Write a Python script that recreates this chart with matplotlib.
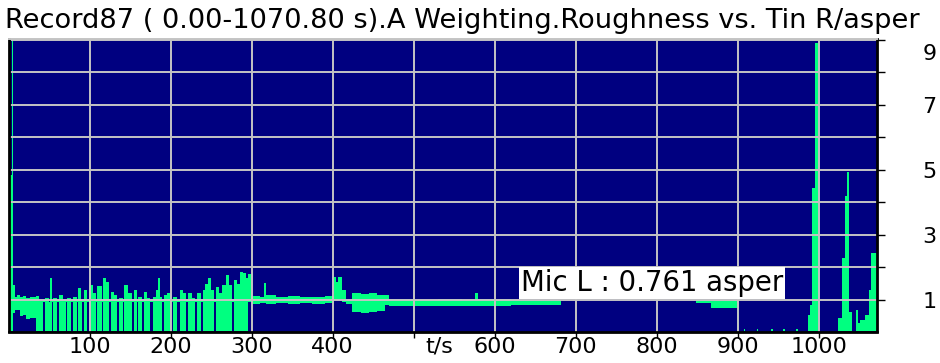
import numpy as np
import matplotlib
matplotlib.use('Agg')
import matplotlib.pyplot as plt
import matplotlib.transforms as mtransforms

nan = np.nan

# envelope of the trace (min / max per time slice), each slice runs to the next start
T_START = [0, 4.5, 6, 8, 10, 14, 18, 22, 27, 33.4,
           38, 43, 45, 49.8, 51.5, 53.9, 55, 60, 62, 67,
           70.4, 72, 76.5, 79, 84, 86, 88.9, 91, 93, 97,
           99, 104, 107.4, 109.5, 115.5, 117, 120.5, 123.8, 126, 130,
           134, 136, 141, 143, 148, 152.5, 154.6, 158, 160, 165,
           167, 171, 175, 178, 182, 184, 186.5, 189, 192, 196,
           200, 203, 208, 211, 215, 219, 221, 226, 230, 233,
           237, 240, 243, 246, 250, 254, 256, 260, 263, 268,
           272, 276, 278, 282, 285, 289, 293, 296,
           300, 310, 315, 317.5, 330, 345, 360, 375, 390, 401,
           404, 407, 412, 416, 424, 435, 445, 455, 465, 469,
           500, 530, 560, 576, 579, 620, 682, 848, 867, 899,
           901, 907, 909, 923, 925, 941, 943, 956, 958, 972,
           974, 986, 989, 991, 995, 998.5, 1023, 1028, 1032, 1035,
           1037, 1040, 1045, 1048, 1051, 1057, 1061, 1064]
LO = [0.05, 0.05, 0.6, 0.7, 0.68, 0.5, 0.55, 0.42, 0.45, 0.05,
      0.05, 0.95, 0.05, 0.05, 0.05, 0.95, 0.05, 0.95, 0.05, 0.05,
      0.95, 0.05, 0.95, 0.05, 0.95, 0.05, 0.05, 0.95, 0.05, 0.95,
      0.05, 0.05, 0.95, 0.05, 0.95, 0.05, 0.05, 0.95, 0.05, 0.05,
      0.95, 0.05, 0.95, 0.05, 0.05, 0.95, 0.05, 0.95, 0.05, 0.95,
      0.05, 0.05, 0.95, 0.05, 0.05, 0.05, 0.05, 0.95, 0.05, 0.05,
      0.95, 0.05, 0.95, 0.05, 0.05, 0.95, 0.05, 0.05, 0.95, 0.05,
      0.95, 0.05, 0.05, 0.05, 0.05, 0.95, 0.05, 0.05, 0.05, 0.05,
      0.05, 0.95, 0.05, 0.05, 0.05, 0.05, 0.05, 0.95,
      0.88, 0.9, 0.9, 0.88, 0.9, 0.87, 0.9, 0.88, 0.9, 1.0,
      1.0, 1.0, 0.95, 0.88, 0.63, 0.6, 0.63, 0.65, 0.85, 0.8,
      0.82, 0.8, 0.82, 0.82, 0.83, 0.85, nan, 0.92, 0.75, 0.05,
      nan, 0.05, nan, 0.05, nan, 0.05, nan, 0.05, nan, 0.05,
      nan, 0.05, 0.05, 0.05, 0.05, nan, 0.05, 0.05, 0.05, 0.05,
      0.05, nan, 0.05, 0.05, 0.05, 0.05, 0.05, 0.05]
HI = [4.85, 9.0, 1.45, 1.1, 1.15, 1.08, 1.12, 1.05, 1.1, 1.12,
      0.98, 1.0, 1.05, 0.95, 1.67, 1.0, 1.05, 1.0, 1.15, 1.0,
      1.0, 1.05, 1.0, 1.1, 1.0, 1.36, 1.0, 1.0, 1.3, 1.0,
      1.46, 1.2, 1.0, 1.42, 1.0, 1.67, 1.55, 1.0, 1.25, 1.15,
      1.0, 1.05, 1.0, 1.46, 1.2, 1.0, 1.3, 1.0, 1.1, 1.0,
      1.25, 1.05, 1.0, 1.1, 1.3, 1.67, 1.1, 1.0, 1.15, 1.2,
      1.0, 1.1, 1.0, 1.3, 1.2, 1.0, 1.2, 1.05, 1.0, 1.2,
      1.0, 1.3, 1.5, 1.67, 1.3, 1.0, 1.4, 1.2, 1.46, 1.77,
      1.45, 1.0, 1.6, 1.5, 1.85, 1.84, 1.68, 1.8,
      1.13, 1.1, 1.52, 1.14, 1.1, 1.12, 1.08, 1.1, 1.12, 1.7,
      1.55, 1.72, 1.3, 1.0, 1.2, 1.18, 1.2, 1.15, 1.15, 1.02,
      1.0, 1.02, 1.0, 1.22, 1.02, 1.0, nan, 1.0, 1.0, 1.0,
      nan, 0.12, nan, 0.12, nan, 0.12, nan, 0.12, nan, 0.12,
      nan, 0.54, 0.85, 4.45, 8.9, nan, 0.45, 2.3, 4.2, 4.95,
      0.63, nan, 0.69, 0.3, 0.38, 0.54, 1.3, 2.45]
T_END = 1070.8

X_TICKS = [100, 200, 300, 400, 500, 600, 700, 800, 900, 1000]
X_TICK_LABELS = ['100', '200', '300', '400', '', '600', '700', '800', '900', '1000']
Y_MAJOR = [1, 3, 5, 7, 9]
Y_MINOR = [2, 4, 6, 8]

TITLE = 'Record87 ( 0.00-1070.80 s).A Weighting.Roughness vs. Tin R/asper'
CURSOR_TEXT = 'Mic L : 0.761 asper'

NAVY = '#000080'
GREEN = '#00FF80'
GRID = '#C4C4C4'

fig = plt.figure(figsize=(9.4, 3.63), dpi=100)
ax = fig.add_axes([8.5 / 940, 1 - 331.5 / 363, (876.5 - 8.5) / 940, (331.5 - 39) / 363])
ax.set_facecolor(NAVY)

t0 = np.array(T_START, dtype=float)
widths = np.diff(np.append(t0, T_END))
lo = np.array(LO, dtype=float)
hi = np.array(HI, dtype=float)
ax.bar(t0, hi - lo, bottom=lo, width=widths, align='edge', color=GREEN,
       linewidth=0, antialiased=False, zorder=1)

ax.set_xlim(0, T_END)
ax.set_ylim(0.03, 9.03)

ax.set_xticks(X_TICKS)
ax.set_xticklabels(X_TICK_LABELS)
ax.yaxis.tick_right()
ax.set_yticks(Y_MAJOR)
ax.set_yticks(Y_MINOR, minor=True)
ax.tick_params(axis='x', direction='out', length=4, width=1, pad=0, labelsize=16)
ax.tick_params(axis='y', which='both', direction='out', length=6, width=1, pad=27,
               labelsize=16, right=True, left=False)

for v in X_TICKS:
    ax.axvline(v, color=GRID, lw=1.4, zorder=2)
for v in Y_MAJOR + Y_MINOR:
    ax.axhline(v, color=GRID, lw=1.4, zorder=2)

# the "9" label sits a little below its tick
off = mtransforms.ScaledTranslation(0, -9 / 72, fig.dpi_scale_trans)
for lab in ax.get_yticklabels():
    if lab.get_text() == '9':
        lab.set_transform(lab.get_transform() + off)

for side in ['left', 'right', 'bottom']:
    ax.spines[side].set_color('black')
    ax.spines[side].set_linewidth(2)
ax.spines['top'].set_color(GRID)
ax.spines['top'].set_linewidth(1.4)

ax.text(531, -0.017, 't/s', transform=ax.get_xaxis_transform(), ha='center', va='top',
        fontsize=16)

ax.text(632, 1.53, CURSOR_TEXT, ha='left', va='center', fontsize=19.8, zorder=5,
        bbox=dict(facecolor='white', edgecolor='none', pad=1.5))

fig.text(5 / 940, 1 - 28 / 363, TITLE, ha='left', va='baseline', fontsize=19.6)

fig.savefig('out.png', dpi=100)
